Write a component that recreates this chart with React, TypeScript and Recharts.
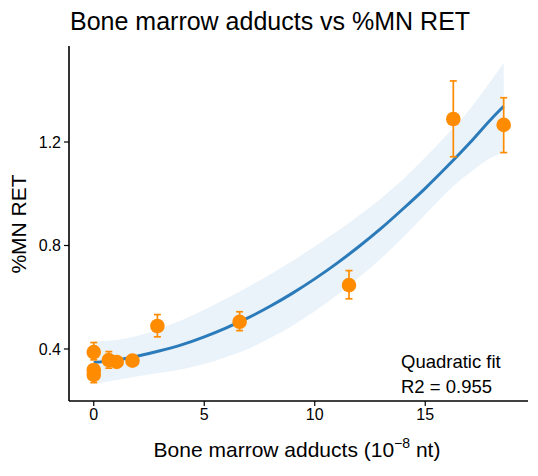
import React from 'react';
import { ComposedChart, Area, Line, Scatter, ErrorBar, XAxis, YAxis } from 'recharts';

// Quadratic fit curve and confidence band
const fitX = [0, 1, 2, 3, 4, 5, 6, 7, 8, 9, 10, 11, 12, 13, 14, 15, 16, 17, 18, 18.55];
const fitY = [0.348, 0.357, 0.373, 0.393, 0.417, 0.447, 0.482, 0.521, 0.566, 0.616, 0.671, 0.731, 0.796, 0.866, 0.942, 1.021, 1.106, 1.195, 1.29, 1.338];
const bandLow = [0.266, 0.279, 0.295, 0.308, 0.322, 0.342, 0.369, 0.401, 0.443, 0.491, 0.546, 0.608, 0.676, 0.75, 0.832, 0.92, 1.008, 1.08, 1.14, 1.16];
const bandHigh = [0.43, 0.435, 0.451, 0.478, 0.512, 0.552, 0.595, 0.641, 0.689, 0.741, 0.796, 0.854, 0.916, 0.982, 1.056, 1.14, 1.23, 1.325, 1.44, 1.505];

// Observed points with asymmetric error bars
const pointX = [0, 0, 0, 0.68, 1.04, 1.75, 2.88, 6.6, 11.55, 16.27, 18.55];
const pointY = [0.388, 0.319, 0.3, 0.357, 0.35, 0.355, 0.489, 0.505, 0.647, 1.289, 1.266];
const errLow = [0.03, 0.02, 0.03, 0.031, 0.015, 0.01, 0.042, 0.034, 0.053, 0.146, 0.107];
const errHigh = [0.037, 0.02, 0.02, 0.033, 0.015, 0.01, 0.044, 0.039, 0.056, 0.147, 0.105];

const xTicks = [0, 5, 10, 15];
const yTicks = [0.4, 0.8, 1.2];

const titleText = 'Bone marrow adducts vs %MN RET';
const yLabelText = '%MN RET';
const fitLabel = 'Quadratic fit';
const r2Label = 'R2 = 0.955';

const curveData = fitX.map((x, i) => ({ x, fit: fitY[i], band: [bandLow[i], bandHigh[i]] }));
const pointData = pointX.map((x, i) => ({ x, y: pointY[i], err: [errLow[i], errHigh[i]] }));

const FONT = '"Liberation Sans", Arial, Helvetica, sans-serif';
const ORANGE = '#FF8C00';
const BLUE = '#2B7BBA';

const Dot = (props: any) => <circle cx={props.cx} cy={props.cy} r={7.3} fill={ORANGE} />;

export default function App() {
  return (
    <div style={{ position: 'absolute', left: 0, top: 0, width: 538, height: 476, background: '#fff', fontFamily: FONT }}>
      <ComposedChart
        width={538}
        height={476}
        data={curveData}
        margin={{ top: 46, right: 10, bottom: 0, left: 0 }}
      >
        <XAxis
          dataKey="x"
          type="number"
          domain={[-1.12, 19.65]}
          ticks={xTicks}
          allowDataOverflow
          height={75}
          tickSize={5}
          tickMargin={3}
          axisLine={{ stroke: '#000', strokeWidth: 1.6 }}
          tickLine={{ stroke: '#000', strokeWidth: 1.2 }}
          tick={{ fill: '#000', fontSize: 16, fontFamily: FONT }}
        />
        <YAxis
          type="number"
          domain={[0.199, 1.571]}
          ticks={yTicks}
          allowDataOverflow
          width={69}
          tickSize={5}
          tickMargin={3}
          tickFormatter={(v: number) => v.toFixed(1)}
          axisLine={{ stroke: '#000', strokeWidth: 1.6 }}
          tickLine={{ stroke: '#000', strokeWidth: 1.2 }}
          tick={{ fill: '#000', fontSize: 16, fontFamily: FONT }}
        />
        <Area
          dataKey="band"
          type="monotone"
          fill="#EAF3FA"
          fillOpacity={1}
          stroke="none"
          isAnimationActive={false}
          activeDot={false}
        />
        <Line
          dataKey="fit"
          type="monotone"
          stroke={BLUE}
          strokeWidth={3}
          dot={false}
          activeDot={false}
          isAnimationActive={false}
        />
        <Scatter data={pointData} dataKey="y" shape={Dot} isAnimationActive={false}>
          <ErrorBar dataKey="err" direction="y" width={3.5} stroke={ORANGE} strokeWidth={1.7} isAnimationActive={false} />
        </Scatter>
      </ComposedChart>
      <svg width={538} height={476} style={{ position: 'absolute', left: 0, top: 0, pointerEvents: 'none' }}>
        <text x={70} y={30} fontSize={25} fontFamily={FONT} fill="#000">{titleText}</text>
        <text x={297} y={457} fontSize={21} fontFamily={FONT} fill="#000" textAnchor="middle">
          Bone marrow adducts (10
          <tspan fontSize={14} dy={-9}>−8</tspan>
          <tspan dy={9}> nt)</tspan>
        </text>
        <text x={26} y={224} fontSize={21} fontFamily={FONT} fill="#000" textAnchor="middle" transform="rotate(-90 26 224)">{yLabelText}</text>
        <text x={401} y={368} fontSize={18.5} fontFamily={FONT} fill="#000">{fitLabel}</text>
        <text x={401} y={393} fontSize={18.5} fontFamily={FONT} fill="#000">{r2Label}</text>
      </svg>
    </div>
  );
}
